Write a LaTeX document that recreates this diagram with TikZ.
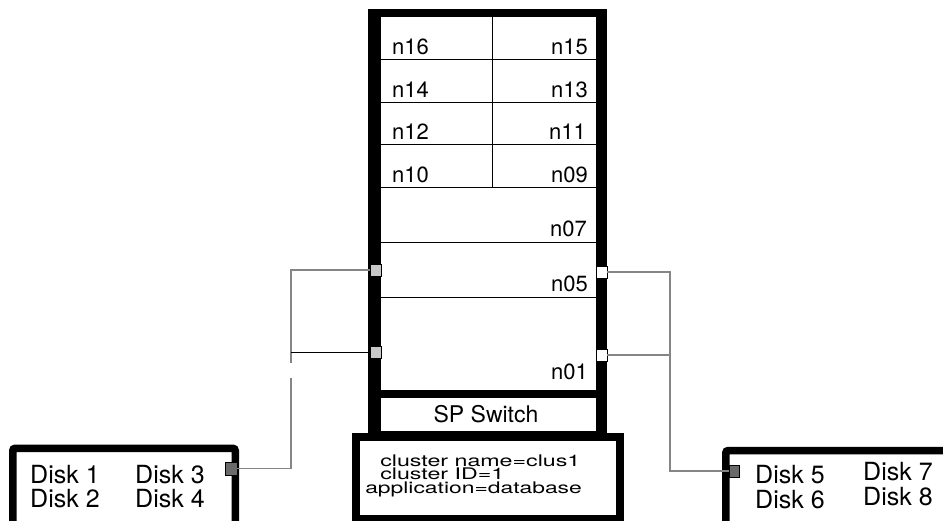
\documentclass[tikz,border=0pt]{standalone}
\usepackage{fontspec}
\setmainfont{TeX Gyre Heros}
\usetikzlibrary{positioning,calc}
\definecolor{wgray}{HTML}{858585}
\definecolor{pgray}{HTML}{C8C8C8}
\definecolor{dgray}{HTML}{6A6A6A}
\tikzset{
  nlbl/.style={inner sep=0pt, font=\fontsize{22}{22}\selectfont},
  dlbl/.style={inner sep=0pt, anchor=base west, font=\fontsize{25}{25}\selectfont},
  clbl/.style={inner sep=0pt, anchor=base west, xscale=1.45, font=\fontsize{16}{16}\selectfont},
  port/.style={draw, line width=0.6pt, inner sep=0pt, minimum width=11pt, minimum height=12pt},
  wire/.style={draw=wgray, line width=1.2pt},
  sep/.style={line width=0.9pt},
  dbox/.style={line width=7.5pt, rounded corners=2.5pt},
}
\begin{document}
\begin{tikzpicture}[x=1pt, y=-1pt]
  \clip (0,0) rectangle (943,520);
  \fill[white] (0,0) rectangle (943,520);
  % frame with nodes and switch
  \fill (368,9) rectangle (607,434);
  \fill[white] (381,17) rectangle (596,390);
  \fill[white] (381,398) rectangle (596,431);
  % cluster box
  \fill (352,433) rectangle (624,530);
  \fill[white] (359.5,441) rectangle (616,514.5);
  % node rows
  \foreach \y in {59.5,102,144.5,187,242,297}
    \draw[sep] (381,\y) -- (596,\y);
  \draw[sep] (492,17) -- (492,187);
  \node[nlbl, anchor=base west] (n16) at (392,54) {n16};
  \node[nlbl, anchor=base east] (n15) at (588,54) {n15};
  \node[nlbl, anchor=base west] (n14) at (392,97) {n14};
  \node[nlbl, anchor=base east] (n13) at (588,97) {n13};
  \node[nlbl, anchor=base west] (n12) at (392,139.5) {n12};
  \node[nlbl, anchor=base east] (n11) at (586,139.5) {n11};
  \node[nlbl, anchor=base west] (n10) at (392,182) {n10};
  \node[nlbl, anchor=base east] (n09) at (588,182) {n09};
  \node[nlbl, anchor=base east] (n07) at (587,236) {n07};
  \node[nlbl, anchor=base east] (n05) at (588,291) {n05};
  \node[nlbl, anchor=base east] (n01) at (588,379) {n01};
  \node[inner sep=0pt, anchor=base, font=\fontsize{23}{23}\selectfont] (sw) at (486,422) {SP Switch};
  \node[clbl] (cname) at (380,466) {cluster name=clus1};
  \node[clbl] (cid) at (380,479.5) {cluster ID=1};
  \node[clbl, xscale=0.985] (capp) at (365,493) {application=database};
  % disk boxes
  \draw[dbox] (12.75,448.25) rectangle (235.25,540);
  \draw[dbox] (725.75,450.5) rectangle (960,540);
  \node[dlbl] (d1) at (30,483) {Disk 1};
  \node[dlbl] (d2) at (30,507) {Disk 2};
  \node[dlbl] (d3) at (135,483) {Disk 3};
  \node[dlbl] (d4) at (135,507) {Disk 4};
  \node[dlbl] (d5) at (755,483) {Disk 5};
  \node[dlbl] (d6) at (755,508) {Disk 6};
  \node[dlbl] (d7) at (863,480) {Disk 7};
  \node[dlbl] (d8) at (863,505) {Disk 8};
  % ports
  \node[port, fill=pgray] (lp1) at (375.5,270) {};
  \node[port, fill=pgray] (lp2) at (375.5,352) {};
  \node[port, fill=white] (rp1) at (601.5,272) {};
  \node[port, fill=white] (rp2) at (601.5,355) {};
  \node[port, fill=dgray, minimum width=12pt, minimum height=13pt] (dp1) at (231,468.5) {};
  \node[port, fill=dgray, minimum width=10pt] (dp2) at (734,471) {};
  % cabling
  \coordinate (lj1) at (291,362.5);
  \coordinate (lj2) at (291,377.5);
  \coordinate (rj) at (670,272);
  \draw[wire] (lp1) -| (lj1);
  \draw[line width=1pt] (lp2.west) -- (lp2.west -| lj1);
  \draw[wire] (lj2) |- (dp1);
  \draw[wire] (rp1) -- (rj) |- (dp2);
  \draw[wire] (rp2) -| (rj);
\end{tikzpicture}
\end{document}
